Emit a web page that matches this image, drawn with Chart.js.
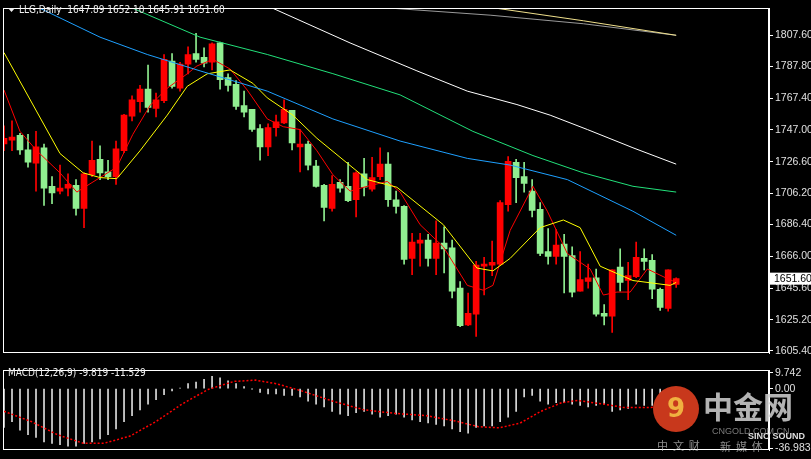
<!DOCTYPE html>
<html><head><meta charset="utf-8">
<script src="https://cdn.jsdelivr.net/npm/chart.js@4.4.1/dist/chart.umd.min.js"></script>
<style>
html,body{margin:0;padding:0;background:#000;width:811px;height:459px;overflow:hidden;}
#w1{position:absolute;left:0;top:0;width:811px;height:362px;}
#w2{position:absolute;left:0;top:362px;width:811px;height:97px;}
</style></head><body>
<div id="w1"><canvas id="c1" width="811" height="362"></canvas></div>
<div id="w2"><canvas id="c2" width="811" height="97"></canvas></div>
<script>
// OHLC per daily candle
const opens=[1737.9,1740.4,1743.5,1734.2,1725.6,1735.5,1710.8,1707.7,1709.6,1711.4,1696.6,1718.2,1728.1,1720.1,1717.0,1733.6,1755.8,1765.1,1773.1,1760.7,1765.7,1791.0,1773.7,1789.1,1795.9,1793.4,1790.3,1802.7,1780.5,1776.2,1762.6,1760.1,1747.8,1736.1,1748.4,1751.5,1759.5,1736.1,1737.9,1723.8,1711.4,1696.6,1713.3,1710.8,1702.2,1718.8,1709.0,1717.0,1725.0,1702.2,
1697.9,1664.6,1674.4,1676.3,1664.6,1674.4,1671.4,1645.5,1622.0,1628.8,1659.6,1660.3,1660.9,1699.1,1726.2,1717.0,1707.7,1696.0,1668.9,1665.8,1673.8,1666.4,1643.6,1649.8,1652.2,1629.4,1627.6,1659.0,1650.4,1652.9,1664.6,1663.3,1644.8,1632.5,1647.89];
const highs=[1749.6,1752.7,1744.7,1744.1,1746.0,1737.9,1717.0,1724.4,1718.8,1715.1,1719.4,1739.8,1736.7,1727.5,1739.8,1757.0,1768.8,1775.5,1788.5,1770.6,1795.3,1795.9,1790.3,1800.2,1808.8,1799.6,1802.7,1803.3,1782.9,1778.6,1771.8,1760.1,1750.3,1750.9,1756.4,1766.3,1759.5,1747.2,1739.8,1727.5,1712.0,1717.6,1715.1,1726.2,1720.1,1728.7,1729.3,1735.5,1732.4,1707.7,
1698.5,1680.6,1680.6,1680.0,1688.6,1684.9,1676.3,1649.8,1642.4,1662.7,1665.2,1675.7,1701.6,1729.9,1728.1,1726.2,1715.1,1700.3,1683.7,1683.1,1680.0,1672.0,1668.9,1660.9,1657.8,1635.0,1657.2,1670.7,1662.1,1675.1,1670.7,1667.0,1645.5,1657.2,1652.10];
const lows=[1733.6,1733.6,1731.2,1723.1,1707.7,1698.5,1699.7,1705.9,1704.6,1692.3,1684.3,1717.0,1715.1,1715.1,1712.0,1732.4,1752.7,1758.3,1758.3,1755.2,1764.4,1773.7,1771.8,1782.9,1790.3,1787.3,1785.4,1773.1,1771.8,1760.1,1755.2,1746.0,1727.5,1730.5,1742.9,1750.9,1734.2,1720.1,1721.3,1710.2,1688.6,1694.8,1707.1,1701.0,1691.1,1704.6,1707.7,1715.1,1697.9,1693.5,
1660.9,1654.1,1659.6,1659.6,1654.1,1655.3,1639.3,1620.8,1621.4,1614.6,1641.1,1653.5,1660.3,1694.8,1700.3,1707.1,1691.1,1666.4,1660.9,1660.9,1642.4,1639.9,1643.6,1645.5,1627.6,1622.0,1617.1,1643.6,1638.1,1652.2,1657.2,1638.7,1631.3,1630.7,1645.91];
const closes=[1741.6,1742.3,1734.2,1726.2,1736.1,1709.6,1706.5,1709.6,1712.0,1696.6,1718.8,1727.5,1719.4,1717.0,1734.9,1756.4,1766.3,1773.1,1761.4,1766.3,1792.2,1774.9,1789.1,1795.3,1792.2,1789.7,1802.1,1779.2,1775.5,1762.0,1758.3,1747.2,1736.1,1748.4,1752.1,1760.1,1738.6,1737.9,1724.4,1710.8,1697.3,1712.0,1709.6,1701.6,1719.4,1710.2,1716.4,1725.0,1702.2,1697.9,
1664.0,1675.1,1676.3,1664.6,1674.4,1670.7,1643.6,1621.4,1629.4,1660.3,1660.9,1662.1,1700.3,1726.8,1716.4,1712.7,1695.4,1667.7,1665.8,1673.2,1665.8,1643.0,1651.0,1652.2,1628.8,1627.6,1657.2,1649.2,1653.5,1665.2,1662.7,1644.8,1633.1,1657.2,1651.60];
// moving averages read as [candle index, price]
const maRed=[[0,1772.5],[2,1746.0],[4.1,1733.6],[7,1719.4],[9.1,1707.1],[12,1716.4],[14.1,1723.1],[16.1,1744.1],[18.25,1762.6],[20.4,1773.7],[22.9,1782.9],[24.1,1787.9],[26.1,1792.2],[28.25,1786.0],[30.4,1772.5],[32.9,1754.0],[34.9,1749.0],[37,1747.2],[39.1,1733.6],[41.1,1718.2],[43.25,1707.7],[45.4,1710.8],[47.9,1713.9],[49.5,1707.1],[52,1686.2],[54.9,1672.0],[57.9,1647.3],[59.9,1644.2],[61.1,1647.3],[63.25,1682.5],[66.1,1710.8],[67.9,1694.8],[70.4,1667.7],[73.25,1657.8],[74.9,1641.1],[76.6,1643.0],[78.25,1643.0],[80.4,1657.8],[82.9,1651.6],[84,1649.2]];
const maYellow=[[0,1796.5],[7,1731.8],[9.9,1719.4],[12,1716.4],[14.1,1715.7],[17,1733.6],[20.4,1756.4],[22.9,1774.9],[25.4,1782.9],[28.25,1785.4],[31.1,1776.8],[32.9,1767.5],[36.1,1756.4],[39.1,1741.6],[42.9,1725.6],[45.4,1715.1],[49.1,1710.2],[54.9,1686.2],[59.1,1658.4],[61.1,1656.6],[63.25,1664.6],[67,1684.3],[69.9,1689.2],[72,1684.3],[74.5,1659.6],[78.6,1650.4],[83.25,1647.3],[84,1649.2]];
const maBlue=[[0,1832],[4.5,1824.9],[12,1806.4],[17.9,1795.3],[24.5,1784.8],[32.9,1771.8],[41.1,1754.0],[49.5,1739.8],[57.9,1728.7],[63.25,1724.4],[70.4,1715.1],[78.6,1694.8],[84,1679.4]];
const maGreen=[[14,1830],[16.1,1824.9],[24.5,1806.4],[32.9,1795.3],[41.1,1783.0],[49.5,1769.4],[58.6,1746.0],[66.1,1730.5],[72.4,1719.4],[78.6,1710.8],[84,1707.1]];
const maWhite=[[31,1832],[33.6,1824.9],[43.25,1802.7],[51.6,1784.8],[57.9,1771.8],[64.1,1763.2],[68.25,1756.4],[72.9,1747.2],[78.6,1735.5],[84,1725.0]];
const maGray=[[40,1828],[48.6,1824.9],[60.75,1820.5],[72.4,1815.0],[84,1807.6]];
const maTan=[[61.6,1824.9],[72.4,1816.9],[84,1807.6]];
const priceTicks=[1807.60,1787.80,1767.40,1747.00,1726.60,1706.20,1686.40,1666.00,1645.60,1625.20,1605.40];
// MACD
const macdHist=[-24.1,-20.5,-25.9,-28.6,-30.4,-33.1,-34.0,-34.9,-35.8,-35.8,-34.0,-33.1,-31.3,-28.6,-25.0,-20.5,-16.8,-13.2,-9.6,-6.9,-3.8,-1.4,0.4,3.1,4.0,5.8,7.6,6.7,4.9,3.1,1.3,-0.2,-2.4,-3.3,-3.3,-4.2,-4.2,-5.1,-7.8,-9.6,-11.4,-14.1,-15.9,-16.8,-15.0,-14.1,-15.9,-17.7,-16.8,-15.9,-17.7,-19.5,-20.5,-21.4,-22.3,-23.2,-25.0,-26.8,-27.7,-24.1,-23.2,-23.2,-20.5,-17.7,-14.1,-5.1,-4.2,-7.8,-9.6,-8.7,-8.7,-9.6,-10.5,-11.4,-10.5,-9.6,-14.1,-13.2,-12.3,-9.6,-10.5,-10.5,-9.6,-8.7,-9.819];
const macdSignal=[[0,-14.1],[3.4,-20.45],[6.65,-28.6],[9.9,-34.0],[12.5,-34.0],[15.75,-29.5],[19,-20.45],[22.25,-9.6],[25.5,-0.5],[28.75,4.5],[31.4,5.3],[34,3.1],[37.2,-1.4],[41.1,-7.8],[45,-13.2],[48.9,-15.4],[52.8,-16.8],[56.7,-20.45],[59.3,-23.7],[61.9,-24.4],[64.5,-21.4],[67.1,-14.1],[69.7,-8.7],[71.7,-7.4],[74.9,-9.6],[77.5,-11.8],[84,-11.529]];
const macdTicks=[9.742,0,-36.983];

const UP='#ff0000', DN='#90ee90';
const idx=opens.map((_,i)=>i);
const pts=a=>a.map(p=>({x:p[0],y:p[1]}));
const line=(a,c,extra)=>Object.assign({type:'line',data:pts(a),borderColor:c,borderWidth:1,pointRadius:0,tension:0,order:-1},extra||{});

const frame={id:'frame',afterDraw(ch,a,o){const c=ch.ctx,ca=ch.chartArea;c.save();c.strokeStyle='#fff';c.lineWidth=1;
 c.strokeRect(Math.round(ca.left)+0.5,Math.round(ca.top)+0.5,Math.round(ca.right-ca.left)-1,Math.round(ca.bottom-ca.top)-1);
 c.font='10px "DejaVu Sans Condensed"';c.textBaseline='middle';c.fillStyle='#f0f0f0';
 if(o.title){ if(o.tri){c.beginPath();c.moveTo(8,8);c.lineTo(15,8);c.lineTo(11.5,12);c.closePath();c.fill();}
  c.fillText(o.title,o.tx,o.ty);}
 c.font='10.5px "Liberation Sans"';
 if(o.last!==undefined){const y=ch.scales.y.getPixelForValue(o.last);c.fillStyle='#fff';c.fillRect(770,y-6,41,12);c.fillStyle='#000';c.fillText(o.last.toFixed(2),774,y+0.5);}
 if(o.logo){c.fillStyle='#c8381c';c.beginPath();c.arc(676,47,23,0,Math.PI*2);c.fill();c.fillStyle='#f0b040';c.font='bold 26px "DejaVu Sans"';c.fillText('9',667,48);
  c.fillStyle='rgba(210,210,210,0.85)';c.font='bold 30px "Noto Sans CJK SC"';c.fillText('中金网',703,45);
  c.font='9px "Liberation Sans"';c.fillStyle='rgba(200,200,200,0.6)';c.fillText('CNGOLD.COM.CN',712,70);
  c.fillStyle='#ddd';c.font='bold 9px "Liberation Sans"';c.fillText('SINO SOUND',748,75);
  c.font='11px "Noto Sans CJK SC"';c.fillStyle='rgba(200,200,200,0.7)';c.fillText('中  文  财',657,84);c.fillText('新  媒  体',720,85);}
 c.restore();}};

const tickCb=v=>v.toFixed(2);
const xScale={type:'linear',display:false,min:-0.125,max:95.6,offset:false,bounds:'data'};
new Chart(document.getElementById('c1'),{
 data:{datasets:[
  {type:'bar',data:idx.map(i=>({x:i,y:[lows[i],highs[i]]})),backgroundColor:idx.map(i=>closes[i]>=opens[i]?UP:DN),barThickness:1,grouped:false,order:2},
  {type:'bar',data:idx.map(i=>({x:i,y:[opens[i],closes[i]]})),backgroundColor:idx.map(i=>closes[i]>=opens[i]?UP:DN),barThickness:6,minBarLength:1,grouped:false,order:1},
  line(maTan,'#f0e08c'),line(maGray,'#9a9a9a'),line(maWhite,'#ffffff'),line(maGreen,'#22e07a'),line(maBlue,'#1ea0ff'),line(maYellow,'#ffff00'),line(maRed,'#ff0000')
 ]},
 options:{responsive:false,animation:false,devicePixelRatio:1,layout:{padding:{left:3,top:2,right:0,bottom:1}},
  plugins:{legend:{display:false},tooltip:{enabled:false},frame:{title:'LLG,Daily  1647.89 1652.10 1645.91 1651.60',tri:true,tx:19,ty:10,last:1651.60,logo:false}},
  scales:{x:xScale,
   y:{position:'right',min:1603.5,max:1824.9,afterFit(s){s.width=42;},afterBuildTicks(s){s.ticks=priceTicks.map(v=>({value:v}));},
    grid:{drawOnChartArea:false,color:'#fff',tickLength:4},border:{color:'#fff'},
    ticks:{color:'#e0e0e0',font:{family:'Liberation Sans',size:10.5},padding:2,callback:tickCb}}}},
 plugins:[frame]});

new Chart(document.getElementById('c2'),{
 data:{datasets:[
  {type:'bar',data:idx.map(i=>({x:i,y:macdHist[i]})),backgroundColor:'#dcdcdc',barThickness:1,grouped:false,order:1},
  line(macdSignal,'#ff0000',{borderDash:[2,2],borderWidth:1.5})
 ]},
 options:{responsive:false,animation:false,devicePixelRatio:1,layout:{padding:{left:3,top:1,right:0,bottom:4}},
  plugins:{legend:{display:false},tooltip:{enabled:false},frame:{title:'MACD(12,26,9) -9.819 -11.529',tri:false,tx:8,ty:11,logo:true}},
  scales:{x:Object.assign({},xScale),
   y:{position:'right',min:-38.6,max:11.4,afterFit(s){s.width=42;},afterBuildTicks(s){s.ticks=macdTicks.map(v=>({value:v}));},
    grid:{drawOnChartArea:false,color:'#fff',tickLength:4},border:{color:'#fff'},
    ticks:{color:'#e0e0e0',font:{family:'Liberation Sans',size:10.5},padding:2,callback:v=>v===0?'0.00':String(v)}}}},
 plugins:[frame]});
</script></body></html>
